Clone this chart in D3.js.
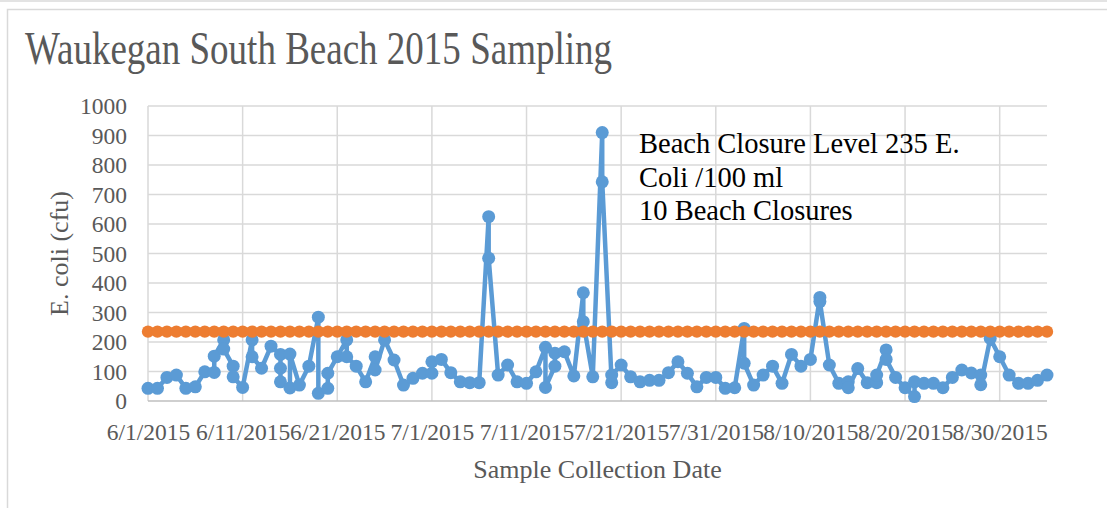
<!DOCTYPE html>
<html lang="en">
<head>
  <meta charset="UTF-8">
  <title>Waukegan South Beach 2015 Sampling</title>
  <script src="https://d3js.org/d3.v7.min.js"></script>
  <style>
    body { margin: 0; background: #fff; }
    svg { display: block; font-family: "Liberation Serif", "Times New Roman", serif; }
    .grid line { stroke: #d9d9d9; stroke-width: 1.5px; }
    .axis text { fill: #595959; font-size: 23.5px; font-family: "Liberation Serif", "Times New Roman", serif; }
  </style>
</head>
<body>
  <svg id="chart"></svg>

  <script>
    // sample dates (some days were sampled more than once)
    const sampleDates = [
      "6/1/2015", "6/2/2015", "6/3/2015", "6/4/2015", "6/5/2015", "6/6/2015", "6/7/2015", "6/8/2015", "6/8/2015",
      "6/9/2015", "6/9/2015", "6/10/2015", "6/10/2015", "6/11/2015", "6/12/2015", "6/12/2015", "6/13/2015",
      "6/14/2015", "6/15/2015", "6/15/2015", "6/15/2015", "6/16/2015", "6/16/2015", "6/17/2015", "6/18/2015",
      "6/19/2015", "6/19/2015", "6/20/2015", "6/20/2015", "6/21/2015", "6/22/2015", "6/22/2015", "6/23/2015",
      "6/24/2015", "6/25/2015", "6/25/2015", "6/26/2015", "6/27/2015", "6/28/2015", "6/29/2015", "6/30/2015",
      "7/1/2015", "7/1/2015", "7/2/2015", "7/3/2015", "7/4/2015", "7/5/2015", "7/6/2015", "7/7/2015", "7/7/2015",
      "7/8/2015", "7/9/2015", "7/10/2015", "7/11/2015", "7/12/2015", "7/13/2015", "7/13/2015", "7/14/2015",
      "7/14/2015", "7/15/2015", "7/16/2015", "7/17/2015", "7/17/2015", "7/18/2015", "7/19/2015", "7/19/2015",
      "7/20/2015", "7/20/2015", "7/21/2015", "7/22/2015", "7/23/2015", "7/24/2015", "7/25/2015", "7/26/2015",
      "7/27/2015", "7/28/2015", "7/29/2015", "7/30/2015", "7/31/2015", "8/1/2015", "8/2/2015", "8/3/2015",
      "8/3/2015", "8/4/2015", "8/5/2015", "8/6/2015", "8/7/2015", "8/8/2015", "8/9/2015", "8/10/2015",
      "8/11/2015", "8/11/2015", "8/12/2015", "8/13/2015", "8/14/2015", "8/14/2015", "8/15/2015", "8/16/2015",
      "8/17/2015", "8/17/2015", "8/18/2015", "8/18/2015", "8/19/2015", "8/20/2015", "8/21/2015", "8/21/2015",
      "8/22/2015", "8/23/2015", "8/24/2015", "8/25/2015", "8/26/2015", "8/27/2015", "8/28/2015", "8/28/2015",
      "8/29/2015", "8/30/2015", "8/31/2015", "9/1/2015", "9/2/2015", "9/3/2015", "9/4/2015"
    ];

    // E. coli (cfu), one per entry in sampleDates
    const ecoliValues = [
      43, 43, 80, 88, 43, 48, 99, 97, 152,
      207, 176, 118, 82, 46, 207, 150, 111,
      186, 158, 111, 65, 44, 159, 54, 118,
      284, 26, 43, 94, 150, 207, 150, 118,
      65, 150, 105, 207, 139, 54, 77, 94,
      94, 133, 141, 96, 65, 62, 62, 625, 484,
      88, 122, 65, 60, 99, 182, 46, 118,
      162, 167, 85, 367, 269, 82, 910, 743,
      62, 88, 122, 82, 65, 70, 70, 96,
      133, 94, 48, 80, 80, 43, 45, 246,
      128, 54, 88, 118, 60, 158, 118, 141,
      351, 337, 122, 60, 65, 45, 110, 62,
      62, 88, 173, 141, 80, 45, 15, 65,
      60, 60, 45, 80, 105, 95, 88, 55,
      212, 150, 88, 60, 60, 70, 88
    ];

    const closureLevel = 235;
    const xTickLabels = ["6/1/2015", "6/11/2015", "6/21/2015", "7/1/2015", "7/11/2015", "7/21/2015",
      "7/31/2015", "8/10/2015", "8/20/2015", "8/30/2015"];
    const yTicks = [0, 100, 200, 300, 400, 500, 600, 700, 800, 900, 1000];
    const noteLines = ["Beach Closure Level 235 E.", "Coli /100 ml", "10 Beach Closures"];

    const width = 1107;
    const height = 508;
    const plot = { left: 148, right: 1047, top: 106, bottom: 401 };

    const parseDate = d3.timeParse("%-m/%-d/%Y");
    const samples = sampleDates.map((d, i) => ({ date: parseDate(d), value: ecoliValues[i] }));
    const closureDates = Array.from(new Set(sampleDates)).map(parseDate);

    const svg = d3.select("#chart")
      .attr("width", width)
      .attr("height", height);

    // outer chart frame
    svg.append("rect")
      .attr("x", 0).attr("y", 0)
      .attr("width", width).attr("height", 2)
      .attr("fill", "#e3e3e3");
    svg.append("rect")
      .attr("x", 7.5).attr("y", 9.5)
      .attr("width", width + 20).attr("height", height + 20)
      .attr("fill", "#fff")
      .attr("stroke", "#d9d9d9")
      .attr("stroke-width", 1.5);

    const x = d3.scaleTime()
      .domain(d3.extent(closureDates))
      .range([plot.left, plot.right]);

    const y = d3.scaleLinear()
      .domain([0, 1000])
      .range([plot.bottom, plot.top]);

    // gridlines
    svg.append("g")
      .attr("class", "grid")
      .selectAll("line.h")
      .data(yTicks.slice(1))
      .enter()
      .append("line")
      .attr("x1", plot.left).attr("x2", plot.right)
      .attr("y1", d => y(d)).attr("y2", d => y(d));

    svg.append("g")
      .attr("class", "grid")
      .selectAll("line.v")
      .data(xTickLabels.map(parseDate))
      .enter()
      .append("line")
      .attr("x1", d => x(d)).attr("x2", d => x(d))
      .attr("y1", plot.top).attr("y2", plot.bottom);

    // axes
    svg.append("g")
      .attr("class", "axis")
      .attr("transform", `translate(${plot.left - 1}, 0)`)
      .call(d3.axisLeft(y).tickValues(yTicks).tickFormat(d3.format("d")).tickSize(0).tickPadding(20))
      .attr("font-family", null)
      .attr("font-size", null)
      .call(g => g.select(".domain").remove());

    svg.append("g")
      .attr("class", "axis")
      .attr("transform", `translate(0, ${plot.bottom})`)
      .call(d3.axisBottom(x)
        .tickValues(xTickLabels.map(parseDate))
        .tickFormat(d3.timeFormat("%-m/%-d/%Y"))
        .tickSize(0)
        .tickPadding(22))
      .attr("font-family", null)
      .attr("font-size", null)
      .call(g => g.select(".domain").remove());

    svg.append("line")
      .attr("x1", plot.left).attr("x2", plot.right)
      .attr("y1", plot.bottom).attr("y2", plot.bottom)
      .attr("stroke", "#bfbfbf")
      .attr("stroke-width", 1.5);

    // E. coli series
    const line = d3.line()
      .x(d => x(d.date))
      .y(d => y(d.value));

    svg.append("path")
      .datum(samples)
      .attr("d", line)
      .attr("fill", "none")
      .attr("stroke", "#5b9bd5")
      .attr("stroke-width", 4.5)
      .attr("stroke-linejoin", "round");

    svg.selectAll("circle.sample")
      .data(samples)
      .enter()
      .append("circle")
      .attr("class", "sample")
      .attr("cx", d => x(d.date))
      .attr("cy", d => y(d.value))
      .attr("r", 6.5)
      .attr("fill", "#5b9bd5");

    // closure level series
    svg.append("path")
      .datum(closureDates)
      .attr("d", d3.line().x(d => x(d)).y(() => y(closureLevel)))
      .attr("fill", "none")
      .attr("stroke", "#ed7d31")
      .attr("stroke-width", 4.5);

    svg.selectAll("circle.closure")
      .data(closureDates)
      .enter()
      .append("circle")
      .attr("class", "closure")
      .attr("cx", d => x(d))
      .attr("cy", y(closureLevel))
      .attr("r", 6.2)
      .attr("fill", "#ed7d31");

    // title
    svg.append("text")
      .attr("x", 25)
      .attr("y", 64)
      .attr("font-size", 46)
      .attr("textLength", 587)
      .attr("lengthAdjust", "spacingAndGlyphs")
      .attr("fill", "#595959")
      .text("Waukegan South Beach 2015 Sampling");

    // axis titles
    svg.append("text")
      .attr("x", (plot.left + plot.right) / 2)
      .attr("y", 478)
      .attr("text-anchor", "middle")
      .attr("font-size", 26)
      .attr("fill", "#595959")
      .text("Sample Collection Date");

    svg.append("text")
      .attr("transform", `translate(68, ${(plot.top + plot.bottom) / 2}) rotate(-90)`)
      .attr("text-anchor", "middle")
      .attr("font-size", 26)
      .attr("fill", "#595959")
      .text("E. coli (cfu)");

    // annotation
    svg.append("text")
      .attr("x", 639)
      .attr("y", 153)
      .attr("font-size", 28.5)
      .attr("fill", "#000")
      .selectAll("tspan")
      .data(noteLines)
      .enter()
      .append("tspan")
      .attr("x", 639)
      .attr("dy", (d, i) => i === 0 ? 0 : 33.5)
      .text(d => d);
  </script>
</body>
</html>
